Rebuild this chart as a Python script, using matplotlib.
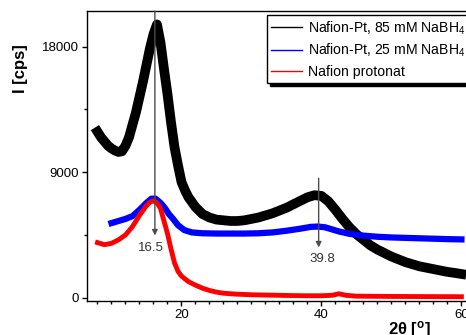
import numpy as np
import matplotlib
matplotlib.use('Agg')
from matplotlib import pyplot as plt
from matplotlib.ticker import MultipleLocator

plt.rcParams['font.family'] = ['Liberation Sans', 'DejaVu Sans']
plt.rcParams['mathtext.fontset'] = 'custom'
plt.rcParams['mathtext.rm'] = 'Liberation Sans'
plt.rcParams['mathtext.bf'] = 'Liberation Sans:bold'

# Nafion-Pt, 85 mM NaBH4
tt_85 = [8.0, 8.5, 9.0, 9.5, 10.0, 10.5, 11.0, 11.5, 12.0, 12.5, 13.0, 13.5, 14.0,
         14.5, 15.0, 15.5, 16.0, 16.5, 17.0, 17.5, 18.0, 18.5, 19.0, 19.5,
         20.0, 20.5, 21.0, 22.0, 23.0, 24.0, 25.0, 26.0, 27.0, 28.0, 29.0, 30.0,
         31.0, 32.0, 33.0, 34.0, 35.0, 36.0, 37.0, 38.0, 39.0, 40.0, 41.0, 42.0,
         43.0, 44.0, 45.0, 46.0, 47.0, 48.0, 49.0, 50.0, 51.0, 52.0, 53.0, 54.0,
         55.0, 56.0, 57.0, 58.0, 59.0, 60.0]
i_85 = [11900, 11500, 11200, 10900, 10700, 10550, 10450, 10500, 10900, 11500, 12400,
        13300, 14400, 15500, 16700, 17900, 18900, 19600, 18300, 16400, 14600,
        12600, 10800, 9500, 8300, 7700, 7200, 6500, 6000, 5750, 5600, 5550, 5500,
        5500, 5550, 5650, 5750, 5900, 6050, 6250, 6450, 6700, 6950, 7200, 7350,
        7300, 6900, 6300, 5650, 5050, 4550, 4150, 3750, 3450, 3200, 2950, 2750,
        2550, 2400, 2250, 2150, 2050, 1950, 1850, 1780, 1700]

# Nafion-Pt, 25 mM NaBH4
tt_25 = [10.0, 11.0, 12.0, 13.0, 14.0, 15.0, 15.7, 16.3, 17.0, 17.6, 18.2, 18.8,
         19.5, 20.4, 21.5, 23.0, 25.0, 27.0, 29.0, 31.0, 33.0, 35.0, 37.0, 38.5,
         39.5, 40.5, 41.5, 42.5, 44.0, 46.0, 48.0, 50.0, 52.0, 54.0, 56.0, 58.0, 60.0]
i_25 = [5350, 5500, 5650, 5850, 6300, 6800, 7100, 7100, 6800, 6450, 6000, 5650,
        5200, 4850, 4680, 4620, 4600, 4600, 4600, 4620, 4680, 4800, 4950, 5080,
        5100, 5050, 4900, 4750, 4580, 4450, 4370, 4320, 4290, 4260, 4230, 4200, 4180]

# Nafion protonat
tt_p = [8.0, 9.0, 10.0, 11.0, 12.0, 13.0, 14.0, 14.5, 15.0, 15.5, 16.0, 16.5, 17.0,
        17.5, 18.0, 18.5, 19.0, 19.5, 20.0, 21.0, 22.0, 23.0, 24.0, 25.0, 26.0,
        28.0, 30.0, 32.0, 34.0, 36.0, 38.0, 40.0, 41.5, 42.5, 43.5, 45.0, 50.0,
        55.0, 60.0]
i_p = [3950, 3800, 3900, 4150, 4500, 5100, 5900, 6250, 6600, 6850, 6950, 6800, 6400,
       5500, 4600, 3500, 2500, 1900, 1550, 1150, 900, 680, 520, 400, 320, 250, 210,
       190, 170, 150, 140, 140, 170, 280, 170, 110, 90, 80, 70]

# peak markers: label, arrow x, arrow start, arrow end, label position
peak_lbl = ['16.5', '39.8']
peak_x = [16.2, 39.6]
peak_top = [20560, 8570]
peak_tip = [4460, 3600]
peak_txt = [(15.7, 3550), (40.1, 2740)]

fig = plt.figure(figsize=(4.66, 3.35), dpi=100)
ax = fig.add_axes([0.1867, 0.1015, 0.826, 0.8657])

ax.plot(tt_85, i_85, color='black', lw=7, solid_joinstyle='round',
        label='Nafion-Pt, 85 mM NaBH$_4$')
ax.plot(tt_25, i_25, color='#0000ff', lw=4.5, solid_joinstyle='round',
        label='Nafion-Pt, 25 mM NaBH$_4$')
ax.plot(tt_p, i_p, color='#ff0000', lw=3.5, solid_joinstyle='round',
        label='Nafion protonat')

for lb, p, t, b, (tx, ty) in zip(peak_lbl, peak_x, peak_top, peak_tip, peak_txt):
    ax.annotate('', xy=(p, b), xytext=(p, t),
                arrowprops=dict(arrowstyle='-|>', color='0.3', lw=1,
                                mutation_scale=8, shrinkA=0, shrinkB=0))
    ax.text(tx, ty, lb, ha='center', va='center', fontsize=9.5, color='0.2')

ax.set_xlim(6.5, 61.5)
ax.set_ylim(-237, 20560)
ax.xaxis.set_major_locator(MultipleLocator(20))
ax.xaxis.set_minor_locator(MultipleLocator(2))
ax.yaxis.set_major_locator(MultipleLocator(9000))
ax.yaxis.set_minor_locator(MultipleLocator(4500))
ax.tick_params(which='major', direction='out', length=3.5, width=1, pad=2.5,
               labelsize=9.5)
ax.tick_params(which='minor', direction='out', length=2, width=1)
for s in ax.spines.values():
    s.set_linewidth(1)

ax.set_ylabel('I [cps]', fontsize=12, fontweight='bold')
ax.yaxis.set_label_coords(-0.152, 0.80)
ax.set_xlabel(r'2θ [$\mathbf{^o}$]', fontsize=12, fontweight='bold')
ax.xaxis.set_label_coords(0.837, -0.062)

leg = ax.legend(loc='upper left', bbox_to_anchor=(0.467, 0.986), borderaxespad=0,
                fontsize=10.1, frameon=True, fancybox=False, edgecolor='black',
                shadow={'color': 'black', 'alpha': 1}, handlelength=2.2,
                handletextpad=0.45, labelspacing=0.38, borderpad=0.3)
leg.get_frame().set_linewidth(1)
for h in leg.get_lines():
    h.set_linewidth(1)

fig.savefig('out.png', dpi=100)
